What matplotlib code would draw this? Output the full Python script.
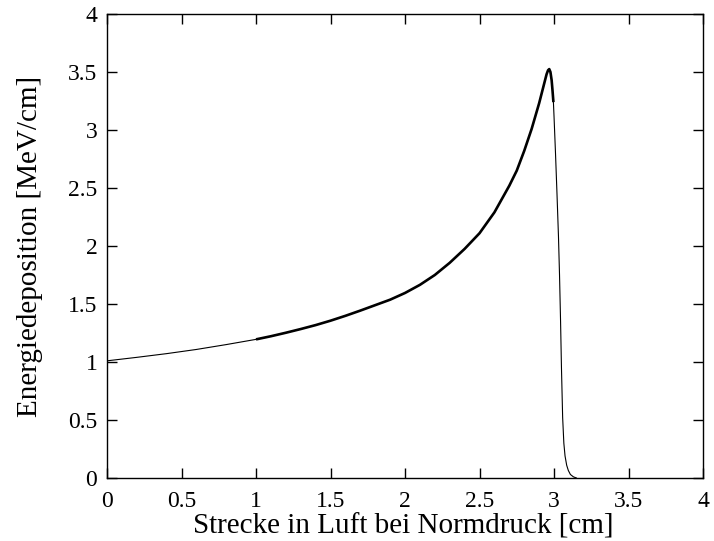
import matplotlib
matplotlib.use('Agg')
import matplotlib.pyplot as plt
import numpy as np

# Bragg-Kurve, Werte
# Abschnitt 1: duenne Linie (0 bis 1 cm)
x_a = [0.0, 0.2, 0.4, 0.6, 0.8, 1.0]
y_a = [1.01, 1.04, 1.072, 1.108, 1.15, 1.195]

# Abschnitt 2: dicke Linie (1 cm bis kurz nach dem Maximum)
x_b = [1.0, 1.1, 1.2, 1.3, 1.4, 1.5, 1.6, 1.7, 1.8, 1.9, 2.0, 2.1, 2.2, 2.3,
       2.4, 2.5, 2.6, 2.7, 2.75, 2.8, 2.85, 2.9, 2.93, 2.95, 2.96, 2.968,
       2.976, 2.984, 2.99, 2.996]
y_b = [1.195, 1.222, 1.252, 1.284, 1.318, 1.356, 1.398, 1.443, 1.49, 1.537,
       1.595, 1.665, 1.75, 1.855, 1.975, 2.11, 2.29, 2.52, 2.65, 2.82, 3.01,
       3.23, 3.38, 3.48, 3.515, 3.525, 3.50, 3.43, 3.34, 3.24]

# Abschnitt 3: duenne Linie (Abfall)
x_c = [2.996, 3.0, 3.01, 3.02, 3.03, 3.037, 3.044, 3.05, 3.058, 3.066, 3.074,
       3.085, 3.096, 3.11, 3.13, 3.15]
y_c = [3.24, 3.12, 2.80, 2.45, 2.08, 1.75, 1.35, 0.95, 0.52, 0.3, 0.19, 0.11,
       0.065, 0.03, 0.01, 0.0]

tick_labels = ['0', '0.5', '1', '1.5', '2', '2.5', '3', '3.5', '4']

plt.rcParams['font.family'] = ['Liberation Serif', 'DejaVu Serif']

fig = plt.figure(figsize=(7.14, 5.41), dpi=100)
ax = fig.add_axes([0.1499, 0.1165, 0.8347, 0.8576])

ax.plot(x_a, y_a, color='black', linewidth=0.8)
ax.plot(x_b, y_b, color='black', linewidth=1.9, solid_capstyle='butt',
        solid_joinstyle='round')
ax.plot(x_c, y_c, color='black', linewidth=0.8)

ax.set_xlim(0, 4)
ax.set_ylim(0, 4)
ax.set_xticks(np.arange(0, 4.01, 0.5))
ax.set_yticks(np.arange(0, 4.01, 0.5))
ax.set_xticklabels(tick_labels)
ax.set_yticklabels(tick_labels)

ax.tick_params(direction='in', length=7, width=1, top=True, right=True,
               labelsize=17)
ax.tick_params(axis='x', pad=9.5)
ax.tick_params(axis='y', pad=7)
for s in ax.spines.values():
    s.set_linewidth(1)

ax.set_xlabel('Strecke in Luft bei Normdruck [cm]', fontsize=21)
ax.set_ylabel('Energiedeposition [MeV/cm]', fontsize=21)
ax.xaxis.set_label_coords(0.497, -0.077)
ax.yaxis.set_label_coords(-0.107, 0.5)

plt.savefig('out.png', dpi=100)
